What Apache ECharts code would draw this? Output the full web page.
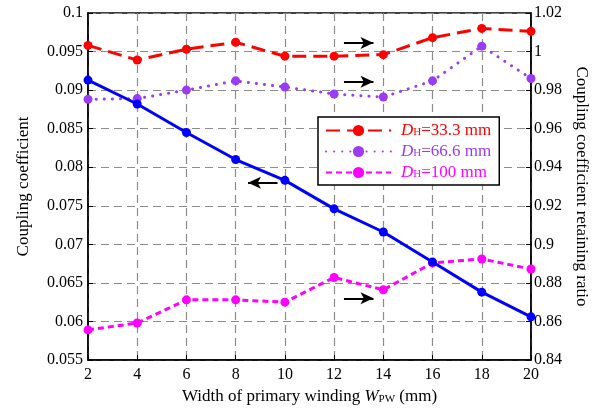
<!DOCTYPE html>
<html>
<head>
<meta charset="utf-8">
<script src="https://cdn.jsdelivr.net/npm/echarts@6/dist/echarts.min.js"></script>
<style>html,body{margin:0;padding:0;background:#fff}#c{width:605px;height:413px}</style>
</head>
<body>
<div id="c"></div>
<script>
var widths = [2, 4, 6, 8, 10, 12, 14, 16, 18, 20];
var couplingCoef = [0.0913, 0.0882, 0.0845, 0.0810, 0.0783, 0.0746, 0.0716, 0.0677, 0.0638, 0.0606];
var ratioDH333 = [1.0032, 0.9956, 1.0012, 1.0048, 0.9976, 0.9976, 0.9984, 1.0072, 1.0120, 1.0105];
var ratioDH666 = [0.9752, 0.9756, 0.9800, 0.9848, 0.9816, 0.9780, 0.9764, 0.9848, 1.0028, 0.9860];
var ratioDH100 = [0.8556, 0.8592, 0.8712, 0.8712, 0.8700, 0.8828, 0.8764, 0.8904, 0.8924, 0.8872];
var seriesNames = ['DH=33.3 mm', 'DH=66.6 mm', 'DH=100 mm'];
var legendLabels = ['{i|D}{s|H}=33.3 mm', '{i|D}{s|H}=66.6 mm', '{i|D}{s|H}=100 mm'];
var leftAxisRange = [0.055, 0.1, 0.005];
var rightAxisRange = [0.84, 1.02, 0.02];
var xAxisRange = [2, 20, 2];
// arrow annotations in data coordinates (left axis): [x1, y1, x2, y2]
var arrows = [
  [12.4, 0.0961, 13.6, 0.0961],
  [12.4, 0.0911, 13.6, 0.0911],
  [9.7, 0.0780, 8.5, 0.0780],
  [12.4, 0.0630, 13.6, 0.0630]
];

function pairs(ys) { return widths.map(function (x, i) { return [x, ys[i]]; }); }

var serif = 'Liberation Serif';
var colors = ['#ff0000', '#9b3cf5', '#ff00ff'];
var gridLine = { show: true, lineStyle: { color: '#8c8c8c', type: [8, 5], width: 1.2 } };
var axisLineStyle = { show: true, lineStyle: { color: '#000', width: 1.5 } };
var rich = {
  i: { fontFamily: serif, fontStyle: 'italic', fontSize: 17, lineHeight: 15 },
  s: { fontFamily: serif, fontSize: 11, verticalAlign: 'bottom', lineHeight: 15, padding: [6, 0, 0, 0] },
  t: { fontFamily: serif, fontSize: 17, lineHeight: 15 }
};

var chart = echarts.init(document.getElementById('c'), null, { renderer: 'canvas' });
chart.setOption({
  animation: false,
  backgroundColor: '#fff',
  grid: { left: 88, right: 74, top: 13, bottom: 53, show: true, borderColor: '#000', borderWidth: 1.5, backgroundColor: 'transparent' },
  legend: {
    left: 318, top: 117, orient: 'vertical',
    backgroundColor: '#fff', borderColor: '#000', borderWidth: 1.5,
    padding: [4, 8, 4, 7], itemGap: 3, itemWidth: 65, itemHeight: 14,
    data: seriesNames.map(function (n, i) { return { name: n, textStyle: { color: colors[i] } }; }),
    formatter: function (name) { return legendLabels[seriesNames.indexOf(name)]; },
    textStyle: { fontFamily: serif, fontSize: 17, lineHeight: 15, padding: [0, 0, 0, 5], rich: rich }
  },
  xAxis: {
    type: 'value', min: xAxisRange[0], max: xAxisRange[1], interval: xAxisRange[2],
    name: 'Width of primary winding {i|W}{s|PW} (mm)', nameLocation: 'middle', nameGap: 27,
    nameTextStyle: { fontFamily: serif, fontSize: 17, color: '#000', rich: rich },
    axisLine: axisLineStyle, axisTick: { show: true, inside: true, length: 5, lineStyle: { color: '#000' } },
    axisLabel: { fontFamily: serif, fontSize: 16, color: '#000', margin: 7 },
    splitLine: gridLine
  },
  yAxis: [{
    type: 'value', min: leftAxisRange[0], max: leftAxisRange[1], interval: leftAxisRange[2],
    name: 'Coupling coefficient', nameLocation: 'middle', nameGap: 56, nameRotate: 90,
    nameTextStyle: { fontFamily: serif, fontSize: 17, color: '#000' },
    axisLine: axisLineStyle, axisTick: { show: true, inside: true, length: 5, lineStyle: { color: '#000' } },
    axisLabel: { fontFamily: serif, fontSize: 16, color: '#000', margin: 5 },
    splitLine: gridLine
  }, {
    type: 'value', min: rightAxisRange[0], max: rightAxisRange[1], interval: rightAxisRange[2], position: 'right',
    name: 'Coupling coefficient retaining ratio', nameLocation: 'middle', nameGap: 42, nameRotate: -90,
    nameTextStyle: { fontFamily: serif, fontSize: 17, color: '#000' },
    axisLine: axisLineStyle, axisTick: { show: true, inside: true, length: 5, lineStyle: { color: '#000' } },
    axisLabel: { fontFamily: serif, fontSize: 16, color: '#000', margin: 3 },
    splitLine: { show: false }
  }],
  series: [{
    name: 'k', type: 'line', yAxisIndex: 0, data: pairs(couplingCoef),
    symbol: 'circle', symbolSize: 9, itemStyle: { color: '#0000ff' },
    lineStyle: { color: '#0000ff', width: 3 }, z: 5,
    markLine: {
      silent: true, symbol: ['none', 'arrow'], symbolSize: [9, 13], animation: false,
      label: { show: false },
      lineStyle: { color: '#000', width: 2, type: 'solid' },
      data: arrows.map(function (a) { return [{ coord: [a[0], a[1]] }, { coord: [a[2], a[3]] }]; })
    }
  }, {
    name: seriesNames[0], type: 'line', yAxisIndex: 1, data: pairs(ratioDH333),
    symbol: 'circle', symbolSize: 9, itemStyle: { color: colors[0] },
    lineStyle: { color: colors[0], width: 3, type: [14, 7] }
  }, {
    name: seriesNames[1], type: 'line', yAxisIndex: 1, data: pairs(ratioDH666),
    symbol: 'circle', symbolSize: 9, itemStyle: { color: colors[1] },
    lineStyle: { color: colors[1], width: 3, type: [0.1, 8], cap: 'round' }
  }, {
    name: seriesNames[2], type: 'line', yAxisIndex: 1, data: pairs(ratioDH100),
    symbol: 'circle', symbolSize: 9, itemStyle: { color: colors[2] },
    lineStyle: { color: colors[2], width: 3, type: [6, 4] }
  }]
});
</script>
</body>
</html>
